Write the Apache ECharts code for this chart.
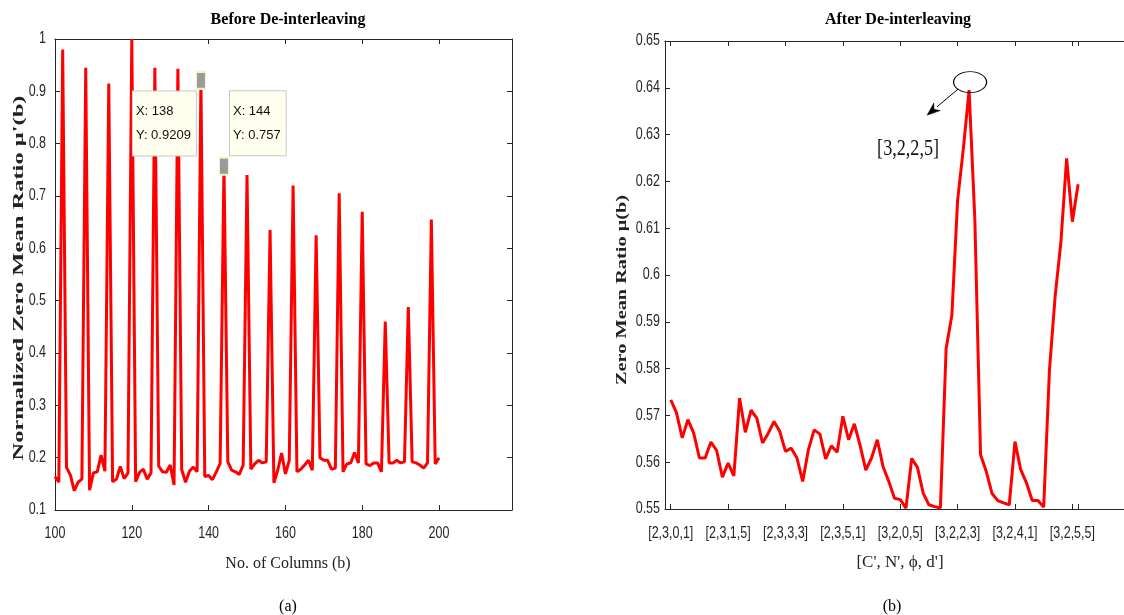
<!DOCTYPE html>
<html><head><meta charset="utf-8">
<script src="https://cdn.jsdelivr.net/npm/echarts@6/dist/echarts.min.js"></script>
<style>html,body{margin:0;padding:0;background:#fff}#c{width:1124px;height:615px}</style>
</head><body><div id="c"></div>
<script>
// ---------- data: (a) Before De-interleaving ----------
const leftColumns = [100,101,102,103,104,105,106,107,108,109,110,111,112,113,114,115,116,117,118,119,
  120,121,122,123,124,125,126,127,128,129,130,131,132,133,134,135,136,137,138,139,
  140,141,142,143,144,145,146,147,148,149,150,151,152,153,154,155,156,157,158,159,
  160,161,162,163,164,165,166,167,168,169,170,171,172,173,174,175,176,177,178,179,
  180,181,182,183,184,185,186,187,188,189,190,191,192,193,194,195,196,197,198,199,200];
const leftValues = [0.164,0.153,0.98,0.181,0.167,0.137,0.153,0.159,0.945,0.138,0.171,0.173,0.205,0.174,0.915,0.154,0.159,0.183,0.16,0.171,
  1.0,0.154,0.172,0.178,0.159,0.171,0.945,0.184,0.173,0.172,0.186,0.148,0.943,0.177,0.153,0.174,0.182,0.173,0.9209,0.164,
  0.166,0.158,0.173,0.189,0.757,0.192,0.176,0.173,0.168,0.186,0.74,0.178,0.188,0.195,0.19,0.192,0.635,0.152,0.176,0.209,
  0.169,0.195,0.72,0.173,0.178,0.186,0.195,0.176,0.625,0.2,0.195,0.195,0.178,0.18,0.705,0.173,0.188,0.19,0.21,0.19,
  0.67,0.188,0.185,0.19,0.19,0.173,0.46,0.19,0.19,0.195,0.19,0.192,0.488,0.192,0.19,0.186,0.18,0.19,0.655,0.188,0.2];
const leftXTicks = [100,120,140,160,180,200];
const leftYTicks = [0.1,0.2,0.3,0.4,0.5,0.6,0.7,0.8,0.9,1];
const leftYTickLabels = ['0.1','0.2','0.3','0.4','0.5','0.6','0.7','0.8','0.9','1'];
const tipColumns = [138,144];

// ---------- data: (b) After De-interleaving ----------
const rightIndex = [1,2,3,4,5,6,7,8,9,10,11,12,13,14,15,16,17,18,19,20,21,22,23,24,25,26,27,28,29,30,31,32,33,34,35,36,
  37,38,39,40,41,42,43,44,45,46,47,48,49,50,51,52,53,54,55,56,57,58,59,60,61,62,63,64,65,66,67,68,69,70,71,72];
const rightValues = [0.5733,0.5706,0.5652,0.5691,0.5662,0.5609,0.5609,0.5643,0.5625,0.5568,0.5598,0.5571,0.5737,0.5664,0.5711,0.5694,0.5641,0.5662,
  0.5687,0.5666,0.5623,0.5630,0.5609,0.5559,0.5627,0.5669,0.5660,0.5607,0.5635,0.5621,0.5698,0.5648,0.5682,0.5636,0.5583,0.5609,
  0.5648,0.5591,0.5559,0.5523,0.5520,0.5502,0.5608,0.5589,0.5534,0.5509,0.5505,0.5502,0.5843,0.5914,0.6160,0.6270,0.6395,0.6120,
  0.5616,0.5580,0.5533,0.5518,0.5513,0.5509,0.5644,0.5584,0.5556,0.5518,0.5518,0.5504,0.5795,0.5955,0.6070,0.6249,0.6114,0.6194];
const rightTickPos = [1,11,21,31,41,51,61,71];
const rightTickLabels = ['[2,3,0,1]','[2,3,1,5]','[2,3,3,3]','[2,3,5,1]','[3,2,0,5]','[3,2,2,3]','[3,2,4,1]','[3,2,5,5]'];
const rightExtraTick = [72];
const rightYTicks = [0.55,0.56,0.57,0.58,0.59,0.6,0.61,0.62,0.63,0.64,0.65];
const rightYTickLabels = ['0.55','0.56','0.57','0.58','0.59','0.6','0.61','0.62','0.63','0.64','0.65'];
const peakIndex = 53;
const peakLabel = '[3,2,2,5]';

// ---------- styling ----------
const AX = '#262626';
const TICKFONT = '16px "Liberation Sans", Arial, sans-serif';
const TICKSCALE = 0.78;
const SERIF = '"Liberation Serif", "Times New Roman", serif';
const RED = '#ff0000';

function xAx(grid, min, max, pos, ticks) {
  return {
    type: 'value', gridIndex: grid, min: min, max: max, position: pos,
    axisLine: { show: true, onZero: false, lineStyle: { color: AX, width: 1 } },
    axisTick: { show: true, inside: true, length: 5, customValues: ticks, lineStyle: { color: AX } },
    axisLabel: { show: false },
    splitLine: { show: false }
  };
}
function yAx(grid, min, max, interval, pos) {
  return {
    type: 'value', gridIndex: grid, min: min, max: max, interval: interval, position: pos,
    axisLine: { show: true, onZero: false, lineStyle: { color: AX, width: 1 } },
    axisTick: { show: true, inside: true, length: 5, lineStyle: { color: AX } },
    axisLabel: { show: false },
    splitLine: { show: false }
  };
}

const leftData = leftColumns.map((c, i) => [c, leftValues[i]]);
const rightData = rightIndex.map((c, i) => [c, rightValues[i]]);

const tipData = tipColumns.map((c, k) => {
  const v = leftValues[leftColumns.indexOf(c)];
  return {
    coord: [c, v],
    label: {
      formatter: 'X: ' + c + '\nY: ' + v,
      offset: k === 0 ? [-68, 43] : [6, -43]
    }
  };
});

const chart = echarts.init(document.getElementById('c'), null, { renderer: 'canvas' });
chart.setOption({
  animation: false,
  backgroundColor: '#ffffff',
  grid: [
    { left: 55, top: 39, width: 457, height: 471, containLabel: false },
    { left: 665, top: 41, width: 460, height: 468, containLabel: false }
  ],
  title: [
    { text: 'Before De-interleaving', left: 283, top: 7, textAlign: 'center',
      textStyle: { fontFamily: SERIF, fontWeight: 'bold', fontSize: 16, color: '#000' } },
    { text: 'After De-interleaving', left: 893, top: 7, textAlign: 'center',
      textStyle: { fontFamily: SERIF, fontWeight: 'bold', fontSize: 16, color: '#000' } },
    { text: 'No. of Columns (b)', left: 283, top: 551, textAlign: 'center',
      textStyle: { fontFamily: SERIF, fontWeight: 'normal', fontSize: 16, color: '#222' } },
    { text: "[C', N', \u03D5, d']", left: 895, top: 549, textAlign: 'center',
      textStyle: { fontFamily: SERIF, fontWeight: 'normal', fontSize: 17, color: '#222' } },
    { text: '(a)', left: 283, top: 594, textAlign: 'center',
      textStyle: { fontFamily: SERIF, fontWeight: 'normal', fontSize: 16, color: '#000' } },
    { text: '(b)', left: 887, top: 594, textAlign: 'center',
      textStyle: { fontFamily: SERIF, fontWeight: 'normal', fontSize: 16, color: '#000' } }
  ],
  xAxis: [
    xAx(0, 100, 219, 'bottom', leftXTicks),
    xAx(0, 100, 219, 'top', leftXTicks),
    xAx(1, 0, 80, 'bottom', rightTickPos.concat(rightExtraTick)),
    xAx(1, 0, 80, 'top', rightTickPos.concat(rightExtraTick))
  ],
  yAxis: [
    yAx(0, 0.1, 1, 0.1, 'left'),
    yAx(0, 0.1, 1, 0.1, 'right'),
    yAx(1, 0.55, 0.65, 0.01, 'left')
  ],
  series: [
    {
      type: 'line', xAxisIndex: 0, yAxisIndex: 0, data: leftData, showSymbol: false, symbol: 'none',
      lineStyle: { color: RED, width: 3 }, itemStyle: { color: RED },
      markPoint: {
        symbol: 'rect', symbolSize: [9, 17],
        itemStyle: { color: '#9a9a9a', borderColor: '#f2f2c8', borderWidth: 1.5 },
        label: {
          show: true, position: 'inside', align: 'left', verticalAlign: 'middle',
          backgroundColor: '#fffff0', borderColor: '#c8c8c8', borderWidth: 1,
          padding: [8, 5, 8, 3], lineHeight: 24, fontSize: 13,
          fontFamily: '"Liberation Sans", Arial, sans-serif', color: '#111'
        },
        data: tipData
      }
    },
    {
      type: 'line', xAxisIndex: 2, yAxisIndex: 2, data: rightData, showSymbol: false, symbol: 'none',
      lineStyle: { color: RED, width: 3 }, itemStyle: { color: RED },
      markPoint: {
        symbol: 'path://M0,10 A10,10 0 1,1 20,10 A10,10 0 1,1 0,10 Z',
        symbolSize: [33, 21], symbolOffset: [1, -8], symbolKeepAspect: false,
        itemStyle: { color: 'rgba(0,0,0,0)', borderColor: '#000', borderWidth: 1 },
        label: { show: false },
        data: [{ coord: [peakIndex, rightValues[rightIndex.indexOf(peakIndex)]] }]
      }
    }
  ]
});

// ----- helpers -----
function measure(text, font) {
  const cv = document.createElement('canvas').getContext('2d');
  cv.font = font;
  return cv.measureText(text).width;
}
const G = [];
function tickText(text, x, y, align) {
  G.push({ type: 'text', x: x, y: y, scaleX: TICKSCALE, scaleY: 1,
    style: { text: text, font: TICKFONT, fill: AX, align: align, verticalAlign: 'middle' } });
}
// tick labels, positioned through the axes' own scales
leftXTicks.forEach(t => {
  const q = chart.convertToPixel({ xAxisIndex: 0, yAxisIndex: 0 }, [t, 0.1]);
  tickText(String(t), q[0], q[1] + 24, 'center');
});
leftYTicks.forEach((t, i) => {
  const q = chart.convertToPixel({ xAxisIndex: 0, yAxisIndex: 0 }, [100, t]);
  tickText(leftYTickLabels[i], q[0] - 9, q[1], 'right');
});
rightTickPos.forEach((t, i) => {
  const q = chart.convertToPixel({ xAxisIndex: 2, yAxisIndex: 2 }, [t, 0.55]);
  tickText(rightTickLabels[i], q[0], q[1] + 25, 'center');
});
rightYTicks.forEach((t, i) => {
  const q = chart.convertToPixel({ xAxisIndex: 2, yAxisIndex: 2 }, [0, t]);
  tickText(rightYTickLabels[i], q[0] - 5, q[1], 'right');
});

// peak annotation
const p = chart.convertToPixel({ xAxisIndex: 2, yAxisIndex: 2 }, [peakIndex, rightValues[rightIndex.indexOf(peakIndex)]]);
const S = [p[0] - 11, p[1] - 1];
const E = [p[0] - 42, p[1] + 25];
const dx = E[0] - S[0], dy = E[1] - S[1], L = Math.hypot(dx, dy);
const ux = dx / L, uy = dy / L, nx = -uy, ny = ux;
const hl = 13, hw = 5;
const B = [E[0] - ux * hl, E[1] - uy * hl];
G.push({ type: 'line', shape: { x1: S[0], y1: S[1], x2: B[0], y2: B[1] }, style: { stroke: '#000', lineWidth: 1 } });
G.push({ type: 'polygon', shape: { points: [E, [B[0] + nx * hw, B[1] + ny * hw], [B[0] + ux * 4, B[1] + uy * 4], [B[0] - nx * hw, B[1] - ny * hw]] },
  style: { fill: '#000', stroke: '#000', lineWidth: 0.5 } });
const pkFont = '24px "Liberation Serif"';
G.push({ type: 'text', x: p[0] - 61, y: p[1] + 59, scaleX: 62 / measure(peakLabel, pkFont), scaleY: 1,
  style: { text: peakLabel, font: pkFont, fill: '#111', align: 'center', verticalAlign: 'middle' } });

// y-axis names
const leftYName = "Normalized Zero Mean Ratio \u03BC'(b)";
const rightYName = 'Zero Mean Ratio \u03BC(b)';
const yFont = 'bold 15px "Liberation Serif"';
G.push({ type: 'text', x: 19, y: 278, rotation: Math.PI / 2, scaleX: 365 / measure(leftYName, yFont), scaleY: 1,
  style: { text: leftYName, font: yFont, fill: '#222', align: 'center', verticalAlign: 'middle' } });
G.push({ type: 'text', x: 622, y: 290, rotation: Math.PI / 2, scaleX: 190 / measure(rightYName, yFont), scaleY: 1,
  style: { text: rightYName, font: yFont, fill: '#222', align: 'center', verticalAlign: 'middle' } });

chart.setOption({ graphic: G });
</script>
</body></html>
